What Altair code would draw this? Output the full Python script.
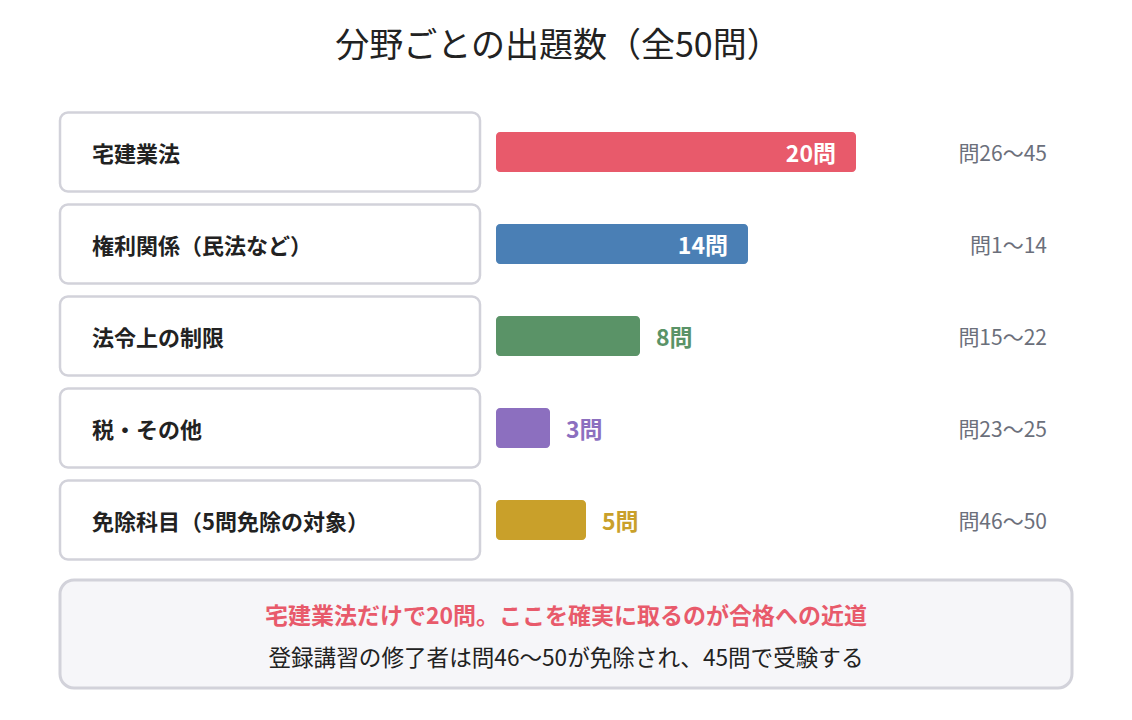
import altair as alt
import pandas as pd

categories = ["宅建業法", "権利関係（民法など）", "法令上の制限", "税・その他", "免除科目（5問免除の対象）"]
counts = [20, 14, 8, 3, 5]
value_labels = ["20問", "14問", "8問", "3問", "5問"]
ranges = ["問26〜45", "問1〜14", "問15〜22", "問23〜25", "問46〜50"]
colors = ["#E85A6B", "#4A7FB5", "#5A9367", "#8C6FBF", "#C9A02A"]
inside = [True, True, False, False, False]

title_text = "分野ごとの出題数（全50問）"
note_main = "宅建業法だけで20問。ここを確実に取るのが合格への近道"
note_sub = "登録講習の修了者は問46〜50が免除され、45問で受験する"

FONT = "Noto Sans CJK JP"

df = pd.DataFrame({
    "cat": categories,
    "count": counts,
    "vlabel": value_labels,
    "range": ranges,
    "inside": inside,
})
df_in = df[df["inside"]]
df_out = df[~df["inside"]]
one = pd.DataFrame({"t": [title_text], "m": [note_main], "s": [note_sub]})

y_enc = alt.Y("cat:N", scale=alt.Scale(domain=categories, range=[106, 566],
                                        paddingInner=0, paddingOuter=0), axis=None)
x_scale = alt.Scale(domain=[0, 20], range=[496, 856])
col_enc = alt.Color("cat:N", scale=alt.Scale(domain=categories, range=colors), legend=None)

boxes = alt.Chart(df).mark_bar(size=79, fill="white", stroke="#D2D2DA", strokeWidth=2.5,
                               cornerRadius=8).encode(
    y=y_enc, x=alt.value(60), x2=alt.value(480))

labels = alt.Chart(df).mark_text(align="left", baseline="middle", dy=3, font=FONT, fontSize=22,
                                 fontWeight="bold", color="#222222").encode(
    y=y_enc, x=alt.value(92), text="cat:N")

bars = alt.Chart(df).mark_bar(size=40, cornerRadius=4).encode(
    y=y_enc,
    x=alt.X("count:Q", scale=x_scale, axis=None),
    x2=alt.datum(0),
    color=col_enc)

vin = alt.Chart(df_in).mark_text(align="right", baseline="middle", dx=-20, dy=3, font=FONT,
                                 fontSize=23, fontWeight="bold", color="white").encode(
    y=y_enc, x=alt.X("count:Q", scale=x_scale, axis=None), text="vlabel:N")

vout = alt.Chart(df_out).mark_text(align="left", baseline="middle", dx=16, dy=3, font=FONT,
                                   fontSize=23, fontWeight="bold").encode(
    y=y_enc, x=alt.X("count:Q", scale=x_scale, axis=None), text="vlabel:N", color=col_enc)

rng = alt.Chart(df).mark_text(align="right", baseline="middle", dy=3, font=FONT, fontSize=21,
                              color="#6B6F7B").encode(
    y=y_enc, x=alt.value(1047), text="range:N")

title = alt.Chart(one).mark_text(align="center", baseline="middle", font=FONT, fontSize=34,
                                 fontWeight="normal", color="#222222").encode(
    x=alt.value(558), y=alt.value(47), text="t:N")

note_box = alt.Chart(one).mark_rect(fill="#F6F6F9", stroke="#D2D2DA", strokeWidth=3,
                                    cornerRadius=14).encode(
    x=alt.value(60), x2=alt.value(1072), y=alt.value(580), y2=alt.value(688))

note1 = alt.Chart(one).mark_text(align="center", baseline="middle", font=FONT, fontSize=23,
                                 fontWeight="bold", color="#E85A6B").encode(
    x=alt.value(566), y=alt.value(617), text="m:N")

note2 = alt.Chart(one).mark_text(align="center", baseline="middle", font=FONT, fontSize=22.6,
                                 color="#222222").encode(
    x=alt.value(566), y=alt.value(659), text="s:N")

chart = alt.layer(boxes, labels, bars, vin, vout, rng, title, note_box, note1, note2).properties(
    width=1132, height=720, autosize="none", padding=0
).configure_view(strokeWidth=0).resolve_scale(color="shared")

chart.save("out.html", embed_options={"renderer": "svg", "actions": False})
